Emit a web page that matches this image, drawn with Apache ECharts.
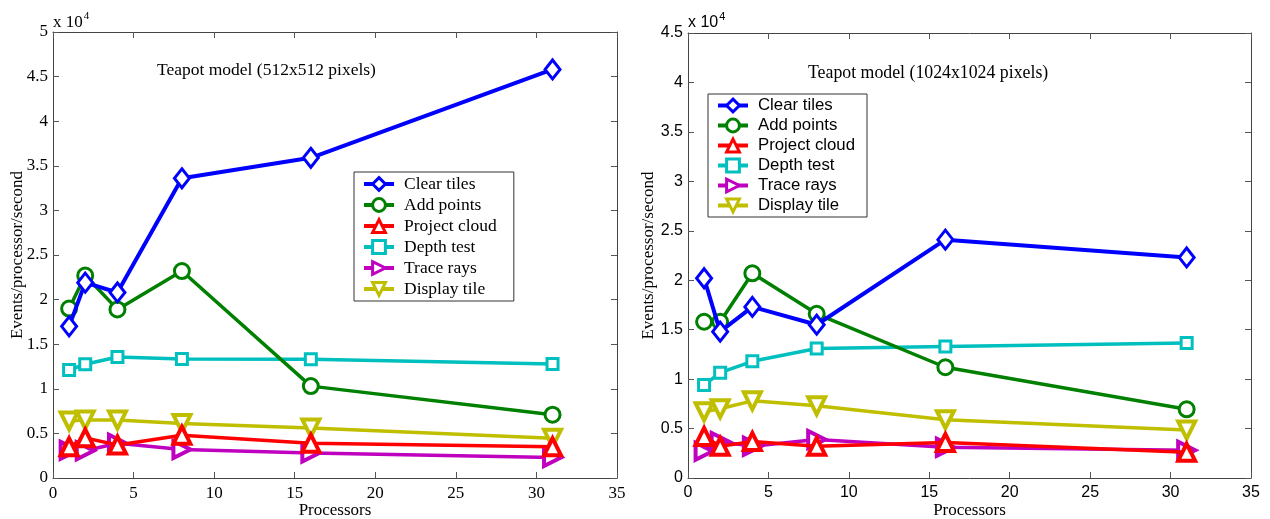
<!DOCTYPE html>
<html><head><meta charset="utf-8">
<script src="https://cdn.jsdelivr.net/npm/echarts@6/dist/echarts.min.js"></script>
<style>html,body{margin:0;padding:0;background:#fff}#c{width:1270px;height:519px}</style>
</head><body><div id="c"></div>
<script>
const processors = [1, 2, 4, 8, 16, 31];
const seriesNames = ['Clear tiles', 'Add points', 'Project cloud', 'Depth test', 'Trace rays', 'Display tile'];
// Left: Teapot model 512x512
const L_clearTiles   = [17000, 21900, 20800, 33600, 35900, 45800];
const L_addPoints    = [19000, 22700, 18900, 23200, 10300, 7100];
const L_projectCloud = [3500, 4500, 3700, 4800, 3900, 3500];
const L_depthTest    = [12100, 12750, 13570, 13350, 13300, 12780];
const L_traceRays    = [3100, 3050, 3900, 3200, 2800, 2300];
const L_displayTile  = [6400, 6500, 6500, 6100, 5600, 4450];
// Right: Teapot model 1024x1024
const R_clearTiles   = [20200, 14800, 17300, 15500, 24100, 22300];
const R_addPoints    = [15800, 15800, 20700, 16600, 11200, 6950];
const R_projectCloud = [4200, 3200, 3700, 3200, 3600, 2600];
const R_depthTest    = [9400, 10650, 11800, 13100, 13300, 13650];
const R_traceRays    = [2700, 3700, 3200, 3900, 3100, 2800];
const R_displayTile  = [6700, 7000, 7800, 7300, 5900, 4850];
const yTicksLeftMax = 50000, yTicksRightMax = 45000, yInterval = 5000;
const xMax = 35, xInterval = 5;

const colors = ['#0000ff', '#008000', '#ff0000', '#00bfbf', '#bf00bf', '#bfbf00'];
const symbols = ['diamond', 'circle', 'triangle', 'rect', 'triangle', 'triangle'];
const symRot = [0, 0, 0, 0, -90, 180];
const symSize = [[15, 19], 15, 17, 11, 17, 17];
const serif = '"Liberation Serif", "DejaVu Serif", serif';
const sans = '"Liberation Sans", Arial, sans-serif';

function pair(a) { return processors.map((p, i) => [p, a[i]]); }

const leftData = [L_clearTiles, L_addPoints, L_projectCloud, L_depthTest, L_traceRays, L_displayTile];
const rightData = [R_clearTiles, R_addPoints, R_projectCloud, R_depthTest, R_traceRays, R_displayTile];

function makeSeries(dataArr, xi, yi) {
  return dataArr.map((d, i) => ({
    name: seriesNames[i], type: 'line', xAxisIndex: xi, yAxisIndex: yi,
    data: pair(d), symbol: symbols[i], symbolRotate: symRot[i], symbolSize: symSize[i],
    showAllSymbol: true, animation: false,
    lineStyle: { color: colors[i], width: i === 0 ? 4 : 3.5 },
    itemStyle: { color: '#fff', borderColor: colors[i], borderWidth: (i === 2 || i === 4 || i === 5) ? 4 : 3 },
    emphasis: { disabled: true }, z: 10 - i
  }));
}

function axesFor(gi, ymax, font, fsize, yNameGap) {
  const axLine = { show: true, onZero: false, lineStyle: { color: '#444', width: 1 } };
  const tick = { show: true, inside: true, length: 6, lineStyle: { color: '#555' } };
  return {
    x: [
      { type: 'value', gridIndex: gi, min: 0, max: xMax, interval: xInterval, position: 'bottom',
        axisLine: axLine, axisTick: tick, splitLine: { show: false },
        axisLabel: { fontFamily: font, fontSize: fsize, color: '#000', margin: 7 },
        name: 'Processors', nameLocation: 'middle', nameGap: 24, nameMoveOverlap: false,
        nameTextStyle: { fontFamily: serif, fontSize: 17, color: '#000' } },
      { type: 'value', gridIndex: gi, min: 0, max: xMax, interval: xInterval, position: 'top',
        axisLine: axLine, axisTick: tick, splitLine: { show: false }, axisLabel: { show: false } }
    ],
    y: [
      { type: 'value', gridIndex: gi, min: 0, max: ymax, interval: yInterval, position: 'left',
        axisLine: axLine, axisTick: tick, splitLine: { show: false },
        axisLabel: { fontFamily: font, fontSize: fsize, color: '#000', margin: 5, formatter: v => String(v / 10000) },
        name: 'Events/processor/second', nameLocation: 'middle', nameGap: yNameGap, nameMoveOverlap: false,
        nameTextStyle: { fontFamily: serif, fontSize: 17, color: '#000' } },
      { type: 'value', gridIndex: gi, min: 0, max: ymax, interval: yInterval, position: 'right',
        axisLine: axLine, axisTick: tick, splitLine: { show: false }, axisLabel: { show: false } }
    ]
  };
}

const a0 = axesFor(0, yTicksLeftMax, serif, 17, 27);
const a1 = axesFor(1, yTicksRightMax, sans, 16, 31);

const legendCommon = {
  orient: 'vertical', itemWidth: 30, itemHeight: 16, itemGap: 3,
  backgroundColor: '#fff', borderColor: '#333', borderWidth: 1,
  data: seriesNames, selectedMode: false,
  lineStyle: { width: 4 }, itemStyle: { borderWidth: 3 }
};

const chart = echarts.init(document.getElementById('c'), null, { renderer: 'canvas' });
chart.setOption({
  animation: false,
  backgroundColor: '#fff',
  grid: [
    { left: 53, top: 32, width: 564, height: 446, outerBoundsMode: 'none', containLabel: false },
    { left: 688, top: 33, width: 563, height: 445, outerBoundsMode: 'none', containLabel: false }
  ],
  xAxis: [...a0.x, ...a1.x],
  yAxis: [...a0.y, ...a1.y],
  title: [
    { text: 'Teapot model (512x512 pixels)', left: 152, top: 56,
      textStyle: { fontFamily: serif, fontSize: 17.5, fontWeight: 'normal', color: '#000' } },
    { text: 'Teapot model (1024x1024 pixels)', left: 803, top: 59,
      textStyle: { fontFamily: serif, fontSize: 17.8, fontWeight: 'normal', color: '#000' } }
  ],
  legend: [
    Object.assign({}, legendCommon, { left: 354, top: 172, padding: [3, 17, 3, 8],
      textStyle: { fontFamily: serif, fontSize: 17.5, color: '#000', padding: [0, 0, 0, 5] } }),
    Object.assign({}, legendCommon, { left: 708, top: 94, padding: [3, 12, 3, 8],
      textStyle: { fontFamily: sans, fontSize: 16.8, color: '#000', padding: [0, 0, 0, 5] } })
  ],
  graphic: [
    { type: 'text', left: 53, top: 11, style: { text: '{a|x 10}{b|4}', rich: {
        a: { fontFamily: serif, fontSize: 17, fill: '#000', verticalAlign: 'bottom' },
        b: { fontFamily: serif, fontSize: 11, fill: '#000', verticalAlign: 'top', padding: [0, 0, 9, 1] } } } },
    { type: 'text', left: 688, top: 11, style: { text: '{a|x 10}{b|4}', rich: {
        a: { fontFamily: sans, fontSize: 16, fill: '#000', verticalAlign: 'bottom' },
        b: { fontFamily: sans, fontSize: 11, fill: '#000', verticalAlign: 'top', padding: [0, 0, 9, 1] } } } }
  ],
  series: [...makeSeries(leftData, 0, 0), ...makeSeries(rightData, 2, 2)]
});
</script></body></html>
